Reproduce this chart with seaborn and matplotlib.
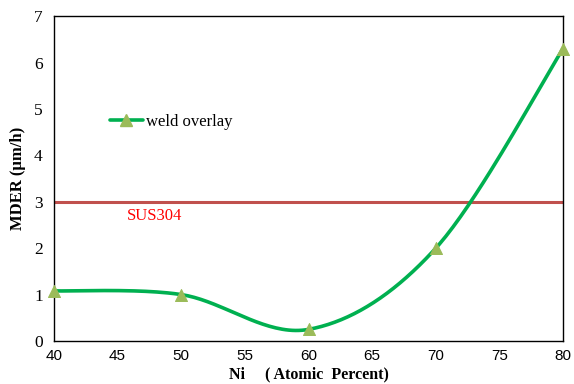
import numpy as np
import pandas as pd
import matplotlib
matplotlib.use("Agg")
import matplotlib.pyplot as plt
from matplotlib.lines import Line2D
import seaborn as sns

# Data
ni = [40, 50, 60, 70, 80]
mder = [1.08, 1.0, 0.25, 2.0, 6.3]
sus304 = 3.0
x_ticks = [40, 45, 50, 55, 60, 65, 70, 75, 80]
y_ticks = [0, 1, 2, 3, 4, 5, 6, 7]

sns.set_style("white")
plt.rcParams["text.color"] = "black"
plt.rcParams["xtick.color"] = "black"
plt.rcParams["ytick.color"] = "black"
plt.rcParams["axes.labelcolor"] = "black"

def smooth_curve(x, y, n=40):
    # Excel-like smoothed line (Catmull-Rom Bezier, tension 1/6)
    x = np.asarray(x, float); y = np.asarray(y, float)
    px = np.concatenate([[x[0]], x, [x[-1]]])
    py = np.concatenate([[y[0]], y, [y[-1]]])
    xs, ys = [], []
    t = np.linspace(0, 1, n)
    for i in range(1, len(px) - 2):
        p0 = np.array([px[i], py[i]]); p3 = np.array([px[i + 1], py[i + 1]])
        c1 = p0 + (np.array([px[i + 1], py[i + 1]]) - np.array([px[i - 1], py[i - 1]])) / 6
        c2 = p3 - (np.array([px[i + 2], py[i + 2]]) - np.array([px[i], py[i]])) / 6
        pts = ((1 - t)[:, None] ** 3 * p0 + 3 * ((1 - t) ** 2 * t)[:, None] * c1
               + 3 * ((1 - t) * t ** 2)[:, None] * c2 + (t ** 3)[:, None] * p3)
        xs.extend(pts[:, 0]); ys.extend(pts[:, 1])
    return np.array(xs), np.array(ys)

sx, sy = smooth_curve(ni, mder)
curve = pd.DataFrame({"x": sx, "y": sy, "order": np.arange(len(sx))})
pts = pd.DataFrame({"Ni": ni, "MDER": mder})

fig = plt.figure(figsize=(5.74, 3.84), dpi=100)
ax = fig.add_axes([0.094, 0.112, 0.887, 0.846])

green = "#00B050"
marker_c = "#9BBB59"
red = "#C0504D"

ax.axhline(sus304, color=red, lw=2.2, zorder=2)
sns.lineplot(data=curve, x="x", y="y", sort=False, color=green, lw=2.6, ax=ax, zorder=3)
sns.scatterplot(data=pts, x="Ni", y="MDER", marker="^", s=75, color=marker_c,
                edgecolor=marker_c, ax=ax, zorder=4, clip_on=False)

ax.set_xlim(40, 80)
ax.set_ylim(0, 7)
ax.set_xticks(x_ticks)
ax.set_yticks(y_ticks)
ax.tick_params(axis="x", length=0, pad=6, colors="black")
ax.tick_params(axis="y", length=0, pad=8, colors="black")
for lab in ax.get_xticklabels():
    lab.set_fontfamily("Liberation Sans"); lab.set_fontsize(11)
for lab in ax.get_yticklabels():
    lab.set_fontfamily("Liberation Serif"); lab.set_fontsize(12.5)

for s in ax.spines.values():
    s.set_color("black"); s.set_linewidth(1.0); s.set_visible(True)

ax.set_xlabel("Ni\u3000 ( Atomic  Percent)", family=["Liberation Serif", "Noto Sans CJK SC"],
              fontweight="bold", fontsize=11.5, labelpad=2.5, color="black")
ax.set_ylabel("MDER (\u03bcm/h)", fontfamily="Liberation Serif",
              fontweight="bold", fontsize=12, labelpad=6, color="black")

handle = Line2D([], [], color=green, lw=2.6, marker="^", markersize=8,
                markerfacecolor=marker_c, markeredgecolor=marker_c)
leg = ax.legend([handle], ["weld overlay"], loc="center left",
                bbox_to_anchor=(0.08, 0.675), frameon=False, handlelength=2.0,
                handletextpad=0.2, prop={"family": "Liberation Serif", "size": 12})

ax.text(45.7, 2.7, "SUS304", color="#FF0000", fontfamily="Liberation Serif",
        fontsize=12, va="center", ha="left")

fig.savefig("out.png", dpi=100)
